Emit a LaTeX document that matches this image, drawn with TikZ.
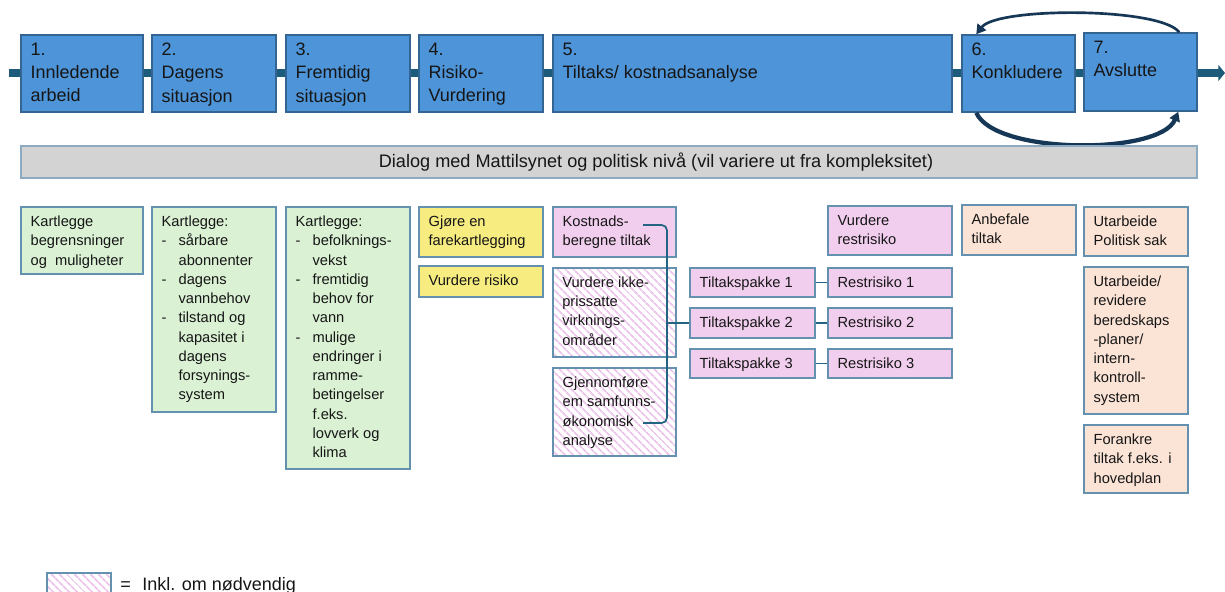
\documentclass[tikz,border=0pt]{standalone}
\usepackage{fontspec}
\setmainfont{Liberation Sans}
\usetikzlibrary{calc,arrows.meta,patterns.meta}
\definecolor{topfill}{RGB}{78,148,216}
\definecolor{topbord}{RGB}{52,100,145}
\definecolor{lowbord}{RGB}{100,145,175}
\definecolor{gfill}{RGB}{218,241,212}
\definecolor{yfill}{RGB}{246,236,128}
\definecolor{pfill}{RGB}{241,206,238}
\definecolor{ofill}{RGB}{251,227,214}
\definecolor{hatchc}{RGB}{238,196,234}
\definecolor{grayf}{RGB}{211,211,211}
\definecolor{grayb}{RGB}{140,170,192}
\definecolor{barc}{RGB}{28,92,122}
\definecolor{arcc}{RGB}{22,55,85}
\definecolor{connc}{RGB}{35,100,130}
\definecolor{txtc}{RGB}{22,22,22}
\newcommand\mkbox[8]{%
  \node[#2, minimum width={(#5-#3)*0.75pt}, minimum height={(#6-#4)*0.75pt}] (#1) at ({(#3+#5)/2},{(#4+#6)/2}) {};
  \node[#7] (#1t) at (#1.north west) {#8};}
\newcommand\bitem{\makebox[12.75pt][l]{-}}
\newcommand\bcont{\hspace*{12.75pt}}
\begin{document}
\begin{tikzpicture}[x=0.75pt,y=-0.75pt,
  topbox/.style={rectangle, draw=topbord, fill=topfill, line width=1.1pt, inner sep=0pt},
  lowbox/.style={rectangle, draw=lowbord, line width=1pt, inner sep=0pt},
  gbox/.style={lowbox, fill=gfill},
  ybox/.style={lowbox, fill=yfill},
  pbox/.style={lowbox, fill=pfill},
  obox/.style={lowbox, fill=ofill},
  hbox/.style={lowbox, preaction={fill=white}, pattern={Lines[angle=-45,distance=4pt,line width=1.4pt]}, pattern color=hatchc},
  toptxt/.style={anchor=north west, inner sep=0pt, align=left, text=txtc, font=\fontsize{13.5}{17.4}\selectfont, xshift=7.5pt, yshift=-6.5pt, execute at begin node={\rule{0pt}{10pt}}},
  lowtxt/.style={anchor=north west, inner sep=0pt, align=left, text=txtc, font=\fontsize{11}{14.45}\selectfont, xshift=7.5pt, yshift=-7pt, execute at begin node={\rule{0pt}{8pt}}},
  legtxt/.style={anchor=base west, inner sep=0pt, text=txtc, font=\fontsize{13.5}{16}\selectfont},
  graybar/.style={rectangle, draw=grayb, fill=grayf, line width=1pt, inner sep=0pt},
  graytxt/.style={inner sep=0pt, text=txtc, font=\fontsize{13.6}{16}\selectfont},
  bar/.style={draw=barc, line width=6.5pt, -{Triangle[length=5pt,width=12pt]}},
  conn/.style={draw=connc, line width=1.3pt},
  arcl/.style={draw=arcc, line width=2pt, -{Triangle[length=7pt,width=8pt]}}
]
\useasboundingbox (0,0) rectangle (1225,592);
\coordinate (barL) at (9,73);
\coordinate (barR) at (1225,73);
\draw[bar] (barL) -- (barR);
% top row
\mkbox{s1}{topbox}{21}{35}{143}{112}{toptxt}{1.\\Innledende\\arbeid}
\mkbox{s2}{topbox}{152}{35}{276}{112}{toptxt}{2.\\Dagens\\situasjon}
\mkbox{s3}{topbox}{286}{35}{410}{112}{toptxt}{3.\\Fremtidig\\situasjon}
\mkbox{s4}{topbox}{419}{35}{543}{112}{toptxt}{4.\\Risiko-\\Vurdering}
\mkbox{s5}{topbox}{553}{35}{952}{112}{toptxt}{5.\\Tiltaks/ kostnadsanalyse}
\mkbox{s6}{topbox}{962}{35}{1075}{112}{toptxt}{6.\\Konkludere}
\mkbox{s7}{topbox}{1084}{33}{1197}{111}{toptxt}{7.\\Avslutte}
% loops
\draw[arcl] ($(s7.north west)+(96,0)$) .. controls (1160,7) and (997,7) .. ($(s6.north west)+(15,0)$);
\draw[arcl, line width=3.2pt] ($(s6.south west)+(15,0)$) .. controls (995,155) and (1160,155) .. ($(s7.south west)+(95,0)$);
% dialog bar
\node[graybar, minimum width={1176*0.75pt}, minimum height={32*0.75pt}] (dlg) at (609,162) {};
\node[graytxt] (dlgt) at (656,162) {Dialog med Mattilsynet og politisk nivå (vil variere ut fra kompleksitet)};
% lower boxes
\mkbox{g1}{gbox}{21}{207}{143}{274}{lowtxt}{Kartlegge\\begrensninger\\og\ \ muligheter}
\mkbox{g2}{gbox}{152}{207}{276}{412}{lowtxt}{Kartlegge:\\\bitem sårbare\\\bcont abonnenter\\\bitem dagens\\\bcont vannbehov\\\bitem tilstand og\\\bcont kapasitet i\\\bcont dagens\\\bcont forsynings-\\\bcont system}
\mkbox{g3}{gbox}{286}{207}{410}{469}{lowtxt}{Kartlegge:\\\bitem befolknings-\\\bcont vekst\\\bitem fremtidig\\\bcont behov for\\\bcont vann\\\bitem mulige\\\bcont endringer i\\\bcont ramme-\\\bcont betingelser\\\bcont f.eks.\\\bcont lovverk og\\\bcont klima}
\mkbox{y1}{ybox}{419}{207}{543}{257}{lowtxt}{Gjøre en\\farekartlegging}
\mkbox{y2}{ybox}{419}{266}{543}{297}{lowtxt}{Vurdere risiko}
\mkbox{k1}{pbox}{553}{207}{676}{257}{lowtxt}{Kostnads-\\beregne tiltak}
\mkbox{k2}{hbox}{553}{268}{676}{357}{lowtxt}{Vurdere ikke-\\prissatte\\virknings-\\områder}
\mkbox{k3}{hbox}{553}{368}{676}{456}{lowtxt}{Gjennomføre\\em samfunns-\\økonomisk\\analyse}
\mkbox{tp1}{pbox}{690}{268}{815}{297}{lowtxt}{Tiltakspakke 1}
\mkbox{tp2}{pbox}{690}{308}{815}{338}{lowtxt}{Tiltakspakke 2}
\mkbox{tp3}{pbox}{690}{349}{815}{378}{lowtxt}{Tiltakspakke 3}
\mkbox{rr1}{pbox}{828}{268}{952}{297}{lowtxt}{Restrisiko 1}
\mkbox{rr2}{pbox}{828}{308}{952}{338}{lowtxt}{Restrisiko 2}
\mkbox{rr3}{pbox}{828}{349}{952}{378}{lowtxt}{Restrisiko 3}
\mkbox{vr}{pbox}{828}{206}{952}{255}{lowtxt}{Vurdere\\restrisiko}
\mkbox{ab}{obox}{962}{205}{1076}{255}{lowtxt}{Anbefale\\tiltak}
\mkbox{o1}{obox}{1084}{207}{1188}{256}{lowtxt}{Utarbeide\\Politisk sak}
\mkbox{o2}{obox}{1084}{267}{1188}{414}{lowtxt}{Utarbeide/\\revidere\\beredskaps\\-planer/\\intern-\\kontroll-\\system}
\mkbox{o3}{obox}{1084}{425}{1188}{493}{lowtxt}{Forankre\\tiltak f.eks. i\\hovedplan}
% connectors
\draw[conn] (tp1) -- (rr1);
\draw[conn] (tp2) -- (rr2);
\draw[conn] (tp3) -- (rr3);
\coordinate (bA) at (643,225);
\coordinate (bB) at (643,423);
\coordinate (bM) at (667,323);
\draw[conn, rounded corners=4pt] (bA) -- (bA -| bM) -- (bB -| bM) -- (bB);
\draw[conn] (bM) -- (tp2.west);
% legend
\node[hbox, minimum width={64*0.75pt}, minimum height={30*0.75pt}] (leg) at (79,588) {};
\node[legtxt] (legeq) at (120,590) {=};
\node[legtxt] (legt) at (142,590) {Inkl. om nødvendig};
\end{tikzpicture}
\end{document}
